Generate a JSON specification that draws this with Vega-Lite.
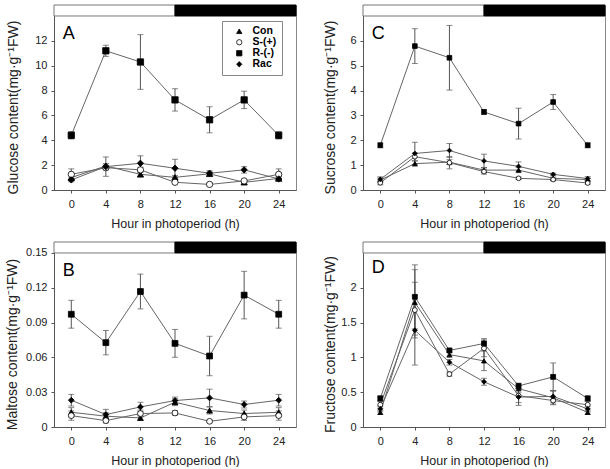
{
  "$schema": "https://vega.github.io/schema/vega-lite/v6.json",
  "padding": {"left": 4, "top": 4, "right": 0, "bottom": 0},
  "background": "white",
  "datasets": {
    "glucose": [
      {"treatment": "Con", "hour": 0, "value": 1.0, "err": 0.15},
      {"treatment": "Con", "hour": 4, "value": 1.93, "err": 0.2},
      {"treatment": "Con", "hour": 8, "value": 1.26, "err": 0.2},
      {"treatment": "Con", "hour": 12, "value": 1.02, "err": 0.15},
      {"treatment": "Con", "hour": 16, "value": 1.3, "err": 0.15},
      {"treatment": "Con", "hour": 20, "value": 0.62, "err": 0.1},
      {"treatment": "Con", "hour": 24, "value": 0.93, "err": 0.15},
      {"treatment": "S-(+)", "hour": 0, "value": 1.26, "err": 0.44},
      {"treatment": "S-(+)", "hour": 4, "value": 1.8, "err": 0.2},
      {"treatment": "S-(+)", "hour": 8, "value": 1.62, "err": 0.2},
      {"treatment": "S-(+)", "hour": 12, "value": 0.62, "err": 0.1},
      {"treatment": "S-(+)", "hour": 16, "value": 0.45, "err": 0.1},
      {"treatment": "S-(+)", "hour": 20, "value": 0.73, "err": 0.1},
      {"treatment": "S-(+)", "hour": 24, "value": 1.26, "err": 0.44},
      {"treatment": "R-(-)", "hour": 0, "value": 4.4, "err": 0.3},
      {"treatment": "R-(-)", "hour": 4, "value": 11.2, "err": 0.45},
      {"treatment": "R-(-)", "hour": 8, "value": 10.3, "err": 2.2},
      {"treatment": "R-(-)", "hour": 12, "value": 7.25, "err": 0.9},
      {"treatment": "R-(-)", "hour": 16, "value": 5.65, "err": 1.05},
      {"treatment": "R-(-)", "hour": 20, "value": 7.25, "err": 0.7},
      {"treatment": "R-(-)", "hour": 24, "value": 4.4, "err": 0.3},
      {"treatment": "Rac", "hour": 0, "value": 0.81, "err": 0.15},
      {"treatment": "Rac", "hour": 4, "value": 1.88, "err": 0.78},
      {"treatment": "Rac", "hour": 8, "value": 2.15, "err": 0.6},
      {"treatment": "Rac", "hour": 12, "value": 1.75, "err": 0.72},
      {"treatment": "Rac", "hour": 16, "value": 1.35, "err": 0.2},
      {"treatment": "Rac", "hour": 20, "value": 1.62, "err": 0.26},
      {"treatment": "Rac", "hour": 24, "value": 0.89, "err": 0.15}
    ],
    "sucrose": [
      {"treatment": "Con", "hour": 0, "value": 0.4, "err": 0.08},
      {"treatment": "Con", "hour": 4, "value": 1.06, "err": 0.1},
      {"treatment": "Con", "hour": 8, "value": 1.12, "err": 0.1},
      {"treatment": "Con", "hour": 12, "value": 0.8, "err": 0.1},
      {"treatment": "Con", "hour": 16, "value": 0.8, "err": 0.1},
      {"treatment": "Con", "hour": 20, "value": 0.47, "err": 0.05},
      {"treatment": "Con", "hour": 24, "value": 0.42, "err": 0.05},
      {"treatment": "S-(+)", "hour": 0, "value": 0.29, "err": 0.08},
      {"treatment": "S-(+)", "hour": 4, "value": 1.34, "err": 0.15},
      {"treatment": "S-(+)", "hour": 8, "value": 1.1, "err": 0.25},
      {"treatment": "S-(+)", "hour": 12, "value": 0.74, "err": 0.1},
      {"treatment": "S-(+)", "hour": 16, "value": 0.47, "err": 0.05},
      {"treatment": "S-(+)", "hour": 20, "value": 0.42, "err": 0.05},
      {"treatment": "S-(+)", "hour": 24, "value": 0.28, "err": 0.05},
      {"treatment": "R-(-)", "hour": 0, "value": 1.8, "err": 0.1},
      {"treatment": "R-(-)", "hour": 4, "value": 5.79, "err": 0.7},
      {"treatment": "R-(-)", "hour": 8, "value": 5.32, "err": 1.3},
      {"treatment": "R-(-)", "hour": 12, "value": 3.14, "err": 0.1},
      {"treatment": "R-(-)", "hour": 16, "value": 2.67, "err": 0.62},
      {"treatment": "R-(-)", "hour": 20, "value": 3.54, "err": 0.3},
      {"treatment": "R-(-)", "hour": 24, "value": 1.8, "err": 0.1},
      {"treatment": "Rac", "hour": 0, "value": 0.43, "err": 0.1},
      {"treatment": "Rac", "hour": 4, "value": 1.47, "err": 0.45},
      {"treatment": "Rac", "hour": 8, "value": 1.59, "err": 0.28},
      {"treatment": "Rac", "hour": 12, "value": 1.17, "err": 0.27},
      {"treatment": "Rac", "hour": 16, "value": 0.95, "err": 0.18},
      {"treatment": "Rac", "hour": 20, "value": 0.63, "err": 0.05},
      {"treatment": "Rac", "hour": 24, "value": 0.46, "err": 0.08}
    ],
    "maltose": [
      {"treatment": "Con", "hour": 0, "value": 0.0127, "err": 0.004},
      {"treatment": "Con", "hour": 4, "value": 0.0093, "err": 0.003},
      {"treatment": "Con", "hour": 8, "value": 0.0078, "err": 0.002},
      {"treatment": "Con", "hour": 12, "value": 0.0214, "err": 0.003},
      {"treatment": "Con", "hour": 16, "value": 0.0142, "err": 0.003},
      {"treatment": "Con", "hour": 20, "value": 0.0116, "err": 0.003},
      {"treatment": "Con", "hour": 24, "value": 0.0127, "err": 0.004},
      {"treatment": "S-(+)", "hour": 0, "value": 0.0098, "err": 0.004},
      {"treatment": "S-(+)", "hour": 4, "value": 0.0055, "err": 0.002},
      {"treatment": "S-(+)", "hour": 8, "value": 0.0116, "err": 0.003},
      {"treatment": "S-(+)", "hour": 12, "value": 0.0121, "err": 0.002},
      {"treatment": "S-(+)", "hour": 16, "value": 0.0049, "err": 0.001},
      {"treatment": "S-(+)", "hour": 20, "value": 0.0087, "err": 0.003},
      {"treatment": "S-(+)", "hour": 24, "value": 0.0098, "err": 0.004},
      {"treatment": "R-(-)", "hour": 0, "value": 0.0972, "err": 0.012},
      {"treatment": "R-(-)", "hour": 4, "value": 0.0727, "err": 0.0105},
      {"treatment": "R-(-)", "hour": 8, "value": 0.1168, "err": 0.015},
      {"treatment": "R-(-)", "hour": 12, "value": 0.0721, "err": 0.012},
      {"treatment": "R-(-)", "hour": 16, "value": 0.0612, "err": 0.017},
      {"treatment": "R-(-)", "hour": 20, "value": 0.1137, "err": 0.0205},
      {"treatment": "R-(-)", "hour": 24, "value": 0.0972, "err": 0.012},
      {"treatment": "Rac", "hour": 0, "value": 0.0231, "err": 0.005},
      {"treatment": "Rac", "hour": 4, "value": 0.0107, "err": 0.0045},
      {"treatment": "Rac", "hour": 8, "value": 0.0173, "err": 0.004},
      {"treatment": "Rac", "hour": 12, "value": 0.0228, "err": 0.003},
      {"treatment": "Rac", "hour": 16, "value": 0.0251, "err": 0.0075},
      {"treatment": "Rac", "hour": 20, "value": 0.0194, "err": 0.003},
      {"treatment": "Rac", "hour": 24, "value": 0.0231, "err": 0.005}
    ],
    "fructose": [
      {"treatment": "Con", "hour": 0, "value": 0.21, "err": 0.03},
      {"treatment": "Con", "hour": 4, "value": 1.79, "err": 0.47},
      {"treatment": "Con", "hour": 8, "value": 1.04, "err": 0.04},
      {"treatment": "Con", "hour": 12, "value": 0.95, "err": 0.14},
      {"treatment": "Con", "hour": 16, "value": 0.55, "err": 0.05},
      {"treatment": "Con", "hour": 20, "value": 0.42, "err": 0.1},
      {"treatment": "Con", "hour": 24, "value": 0.21, "err": 0.03},
      {"treatment": "S-(+)", "hour": 0, "value": 0.32, "err": 0.05},
      {"treatment": "S-(+)", "hour": 4, "value": 1.68, "err": 0.4},
      {"treatment": "S-(+)", "hour": 8, "value": 0.76, "err": 0.03},
      {"treatment": "S-(+)", "hour": 12, "value": 1.13, "err": 0.12},
      {"treatment": "S-(+)", "hour": 16, "value": 0.45, "err": 0.1},
      {"treatment": "S-(+)", "hour": 20, "value": 0.38, "err": 0.05},
      {"treatment": "S-(+)", "hour": 24, "value": 0.32, "err": 0.05},
      {"treatment": "R-(-)", "hour": 0, "value": 0.41, "err": 0.04},
      {"treatment": "R-(-)", "hour": 4, "value": 1.87, "err": 0.46},
      {"treatment": "R-(-)", "hour": 8, "value": 1.1, "err": 0.03},
      {"treatment": "R-(-)", "hour": 12, "value": 1.2, "err": 0.07},
      {"treatment": "R-(-)", "hour": 16, "value": 0.59, "err": 0.04},
      {"treatment": "R-(-)", "hour": 20, "value": 0.72, "err": 0.2},
      {"treatment": "R-(-)", "hour": 24, "value": 0.41, "err": 0.04},
      {"treatment": "Rac", "hour": 0, "value": 0.26, "err": 0.04},
      {"treatment": "Rac", "hour": 4, "value": 1.39, "err": 0.5},
      {"treatment": "Rac", "hour": 8, "value": 0.93, "err": 0.04},
      {"treatment": "Rac", "hour": 12, "value": 0.65, "err": 0.05},
      {"treatment": "Rac", "hour": 16, "value": 0.43, "err": 0.12},
      {"treatment": "Rac", "hour": 20, "value": 0.44, "err": 0.08},
      {"treatment": "Rac", "hour": 24, "value": 0.26, "err": 0.04}
    ]
  },
  "columns": 2,
  "spacing": {"row": 11, "column": 25},
  "concat": [
    {
      "width": 242, "height": 185,
      "data": {"name": "glucose"},
      "layer": [
        {"data": {"values": [{"phase": "light"}]}, "mark": {"type": "rect", "fill": "white", "stroke": "#777", "strokeWidth": 1},
         "encoding": {"x": {"datum": -2, "type": "quantitative"}, "x2": {"datum": 12}, "y": {"datum": 14, "type": "quantitative"}, "y2": {"datum": 14.885}}},
        {"data": {"values": [{"phase": "dark"}]}, "mark": {"type": "rect", "fill": "black", "stroke": "black", "strokeWidth": 1},
         "encoding": {"x": {"datum": 12, "type": "quantitative"}, "x2": {"datum": 26}, "y": {"datum": 14, "type": "quantitative"}, "y2": {"datum": 14.885}}},
        {"mark": {"type": "line", "color": "#666", "strokeWidth": 1},
         "encoding": {
           "x": {"field": "hour", "type": "quantitative", "title": "Hour in photoperiod (h)", "scale": {"domain": [-2, 26], "nice": false, "zero": false}, "axis": {"values": [0, 4, 8, 12, 16, 20, 24], "tickCount": 10, "format": "d"}},
           "y": {"field": "value", "type": "quantitative", "title": "Glucose content(mg·g⁻¹FW)", "scale": {"domain": [0, 14.885], "nice": false, "zero": false}, "axis": {"values": [0, 2, 4, 6, 8, 10, 12], "tickCount": 10, "format": "~g", "titleX": -34, "titleY": 102}},
           "detail": {"field": "treatment"}}},
        {"mark": {"type": "errorbar", "color": "#555", "ticks": {"size": 6}},
         "encoding": {"x": {"field": "hour", "type": "quantitative", "title": "Hour in photoperiod (h)"}, "y": {"field": "value", "type": "quantitative", "title": "Glucose content(mg·g⁻¹FW)"}, "yError": {"field": "err"}}},
        {"mark": {"type": "point", "filled": true, "stroke": "black", "strokeWidth": 0.8, "size": 40, "opacity": 1},
         "encoding": {
           "x": {"field": "hour", "type": "quantitative", "title": "Hour in photoperiod (h)"},
           "y": {"field": "value", "type": "quantitative", "title": "Glucose content(mg·g⁻¹FW)"},
           "shape": {"field": "treatment", "type": "nominal", "scale": {"domain": ["Con", "S-(+)", "R-(-)", "Rac"], "range": ["triangle-up", "circle", "square", "diamond"]},
             "legend": {"title": null, "orient": "none", "legendX": 168, "legendY": 16, "direction": "vertical", "strokeColor": "#888", "padding": 5, "labelFont": "Liberation Sans", "labelFontSize": 10.5, "labelFontWeight": "bold", "labelColor": "black", "symbolSize": 28, "symbolStrokeColor": "black", "symbolStrokeWidth": 0.8, "rowPadding": 0, "labelOffset": 8, "symbolOffset": 7}},
           "fill": {"field": "treatment", "type": "nominal", "scale": {"domain": ["Con", "S-(+)", "R-(-)", "Rac"], "range": ["black", "white", "black", "black"]},
             "legend": {"title": null, "orient": "none", "legendX": 168, "legendY": 16, "direction": "vertical", "strokeColor": "#888", "padding": 5, "labelFont": "Liberation Sans", "labelFontSize": 10.5, "labelFontWeight": "bold", "labelColor": "black", "symbolSize": 28, "symbolStrokeColor": "black", "symbolStrokeWidth": 0.8, "rowPadding": 0, "labelOffset": 8, "symbolOffset": 7}},
           "stroke": {"field": "treatment", "type": "nominal", "scale": {"domain": ["Con", "S-(+)", "R-(-)", "Rac"], "range": ["black", "black", "black", "black"]},
             "legend": {"title": null, "orient": "none", "legendX": 168, "legendY": 16, "direction": "vertical", "strokeColor": "#888", "padding": 5, "labelFont": "Liberation Sans", "labelFontSize": 10.5, "labelFontWeight": "bold", "labelColor": "black", "symbolSize": 28, "symbolStrokeColor": "black", "symbolStrokeWidth": 0.8, "rowPadding": 0, "labelOffset": 8, "symbolOffset": 7}}}},
        {"data": {"values": [{"panel": "A"}]}, "mark": {"type": "text", "font": "Liberation Sans", "fontSize": 18, "fontWeight": "normal", "align": "left", "baseline": "alphabetic", "color": "black"},
         "encoding": {"text": {"field": "panel"}, "x": {"datum": -1.0, "type": "quantitative"}, "y": {"datum": 12.15, "type": "quantitative"}}}
      ]
    },
    {
      "width": 242, "height": 185,
      "data": {"name": "sucrose"},
      "layer": [
        {"data": {"values": [{"phase": "light"}]}, "mark": {"type": "rect", "fill": "white", "stroke": "#777", "strokeWidth": 1},
         "encoding": {"x": {"datum": -2, "type": "quantitative"}, "x2": {"datum": 12}, "y": {"datum": 7, "type": "quantitative"}, "y2": {"datum": 7.443}}},
        {"data": {"values": [{"phase": "dark"}]}, "mark": {"type": "rect", "fill": "black", "stroke": "black", "strokeWidth": 1},
         "encoding": {"x": {"datum": 12, "type": "quantitative"}, "x2": {"datum": 26}, "y": {"datum": 7, "type": "quantitative"}, "y2": {"datum": 7.443}}},
        {"mark": {"type": "line", "color": "#666", "strokeWidth": 1},
         "encoding": {
           "x": {"field": "hour", "type": "quantitative", "title": "Hour in photoperiod (h)", "scale": {"domain": [-2, 26], "nice": false, "zero": false}, "axis": {"values": [0, 4, 8, 12, 16, 20, 24], "tickCount": 10, "format": "d"}},
           "y": {"field": "value", "type": "quantitative", "title": "Sucrose content(mg·g⁻¹FW)", "scale": {"domain": [0, 7.443], "nice": false, "zero": false}, "axis": {"values": [0, 1, 2, 3, 4, 5, 6], "tickCount": 10, "format": "~g", "titleX": -26, "titleY": 102}},
           "detail": {"field": "treatment"}}},
        {"mark": {"type": "errorbar", "color": "#555", "ticks": {"size": 6}},
         "encoding": {"x": {"field": "hour", "type": "quantitative", "title": "Hour in photoperiod (h)"}, "y": {"field": "value", "type": "quantitative", "title": "Sucrose content(mg·g⁻¹FW)"}, "yError": {"field": "err"}}},
        {"mark": {"type": "point", "filled": true, "stroke": "black", "strokeWidth": 0.8, "size": 22, "opacity": 1},
         "encoding": {
           "x": {"field": "hour", "type": "quantitative", "title": "Hour in photoperiod (h)"},
           "y": {"field": "value", "type": "quantitative", "title": "Sucrose content(mg·g⁻¹FW)"},
           "shape": {"field": "treatment", "type": "nominal", "legend": null},
           "fill": {"field": "treatment", "type": "nominal", "legend": null}}},
        {"data": {"values": [{"panel": "C"}]}, "mark": {"type": "text", "font": "Liberation Sans", "fontSize": 18, "fontWeight": "normal", "align": "left", "baseline": "alphabetic", "color": "black"},
         "encoding": {"text": {"field": "panel"}, "x": {"datum": -1.0, "type": "quantitative"}, "y": {"datum": 6.075, "type": "quantitative"}}}
      ]
    },
    {
      "width": 242, "height": 185,
      "data": {"name": "maltose"},
      "layer": [
        {"data": {"values": [{"phase": "light"}]}, "mark": {"type": "rect", "fill": "white", "stroke": "#777", "strokeWidth": 1},
         "encoding": {"x": {"datum": -2, "type": "quantitative"}, "x2": {"datum": 12}, "y": {"datum": 0.15, "type": "quantitative"}, "y2": {"datum": 0.15948}}},
        {"data": {"values": [{"phase": "dark"}]}, "mark": {"type": "rect", "fill": "black", "stroke": "black", "strokeWidth": 1},
         "encoding": {"x": {"datum": 12, "type": "quantitative"}, "x2": {"datum": 26}, "y": {"datum": 0.15, "type": "quantitative"}, "y2": {"datum": 0.15948}}},
        {"mark": {"type": "line", "color": "#666", "strokeWidth": 1},
         "encoding": {
           "x": {"field": "hour", "type": "quantitative", "title": "Hour in photoperiod (h)", "scale": {"domain": [-2, 26], "nice": false, "zero": false}, "axis": {"values": [0, 4, 8, 12, 16, 20, 24], "tickCount": 10, "format": "d"}},
           "y": {"field": "value", "type": "quantitative", "title": "Maltose content(mg·g⁻¹FW)", "scale": {"domain": [0, 0.15948], "nice": false, "zero": false}, "axis": {"values": [0, 0.03, 0.06, 0.09, 0.12, 0.15], "tickCount": 10, "format": "~g", "titleX": -35, "titleY": 102}},
           "detail": {"field": "treatment"}}},
        {"mark": {"type": "errorbar", "color": "#555", "ticks": {"size": 6}},
         "encoding": {"x": {"field": "hour", "type": "quantitative", "title": "Hour in photoperiod (h)"}, "y": {"field": "value", "type": "quantitative", "title": "Maltose content(mg·g⁻¹FW)"}, "yError": {"field": "err"}}},
        {"mark": {"type": "point", "filled": true, "stroke": "black", "strokeWidth": 0.8, "size": 34, "opacity": 1},
         "encoding": {
           "x": {"field": "hour", "type": "quantitative", "title": "Hour in photoperiod (h)"},
           "y": {"field": "value", "type": "quantitative", "title": "Maltose content(mg·g⁻¹FW)"},
           "shape": {"field": "treatment", "type": "nominal", "legend": null},
           "fill": {"field": "treatment", "type": "nominal", "legend": null}}},
        {"data": {"values": [{"panel": "B"}]}, "mark": {"type": "text", "font": "Liberation Sans", "fontSize": 18, "fontWeight": "normal", "align": "left", "baseline": "alphabetic", "color": "black"},
         "encoding": {"text": {"field": "panel"}, "x": {"datum": -1.0, "type": "quantitative"}, "y": {"datum": 0.1302, "type": "quantitative"}}}
      ]
    },
    {
      "width": 242, "height": 185,
      "data": {"name": "fructose"},
      "layer": [
        {"data": {"values": [{"phase": "light"}]}, "mark": {"type": "rect", "fill": "white", "stroke": "#777", "strokeWidth": 1},
         "encoding": {"x": {"datum": -2, "type": "quantitative"}, "x2": {"datum": 12}, "y": {"datum": 2.5, "type": "quantitative"}, "y2": {"datum": 2.658}}},
        {"data": {"values": [{"phase": "dark"}]}, "mark": {"type": "rect", "fill": "black", "stroke": "black", "strokeWidth": 1},
         "encoding": {"x": {"datum": 12, "type": "quantitative"}, "x2": {"datum": 26}, "y": {"datum": 2.5, "type": "quantitative"}, "y2": {"datum": 2.658}}},
        {"mark": {"type": "line", "color": "#666", "strokeWidth": 1},
         "encoding": {
           "x": {"field": "hour", "type": "quantitative", "title": "Hour in photoperiod (h)", "scale": {"domain": [-2, 26], "nice": false, "zero": false}, "axis": {"values": [0, 4, 8, 12, 16, 20, 24], "tickCount": 10, "format": "d"}},
           "y": {"field": "value", "type": "quantitative", "title": "Fructose content(mg·g⁻¹FW)", "scale": {"domain": [0, 2.658], "nice": false, "zero": false}, "axis": {"values": [0, 0.5, 1, 1.5, 2], "tickCount": 10, "format": "~g", "titleX": -26, "titleY": 102}},
           "detail": {"field": "treatment"}}},
        {"mark": {"type": "errorbar", "color": "#555", "ticks": {"size": 6}},
         "encoding": {"x": {"field": "hour", "type": "quantitative", "title": "Hour in photoperiod (h)"}, "y": {"field": "value", "type": "quantitative", "title": "Fructose content(mg·g⁻¹FW)"}, "yError": {"field": "err"}}},
        {"mark": {"type": "point", "filled": true, "stroke": "black", "strokeWidth": 0.8, "size": 24, "opacity": 1},
         "encoding": {
           "x": {"field": "hour", "type": "quantitative", "title": "Hour in photoperiod (h)"},
           "y": {"field": "value", "type": "quantitative", "title": "Fructose content(mg·g⁻¹FW)"},
           "shape": {"field": "treatment", "type": "nominal", "legend": null},
           "fill": {"field": "treatment", "type": "nominal", "legend": null}}},
        {"data": {"values": [{"panel": "D"}]}, "mark": {"type": "text", "font": "Liberation Sans", "fontSize": 18, "fontWeight": "normal", "align": "left", "baseline": "alphabetic", "color": "black"},
         "encoding": {"text": {"field": "panel"}, "x": {"datum": -1.0, "type": "quantitative"}, "y": {"datum": 2.208, "type": "quantitative"}}}
      ]
    }
  ],
  "config": {
    "view": {"stroke": "#888", "strokeWidth": 1},
    "axis": {
      "grid": false,
      "labelFont": "Liberation Sans",
      "labelFontSize": 11,
      "labelColor": "#222",
      "labelOverlap": false,
      "titleFont": "Liberation Sans",
      "titleFontSize": 12.5,
      "titleFontWeight": "normal",
      "titleColor": "#222",
      "domainColor": "#555",
      "tickColor": "#555",
      "tickSize": 3,
      "labelPadding": 4
    },
    "axisX": {"titlePadding": 8, "labelPadding": 5},
    "axisY": {"titleFontSize": 14}
  }
}
